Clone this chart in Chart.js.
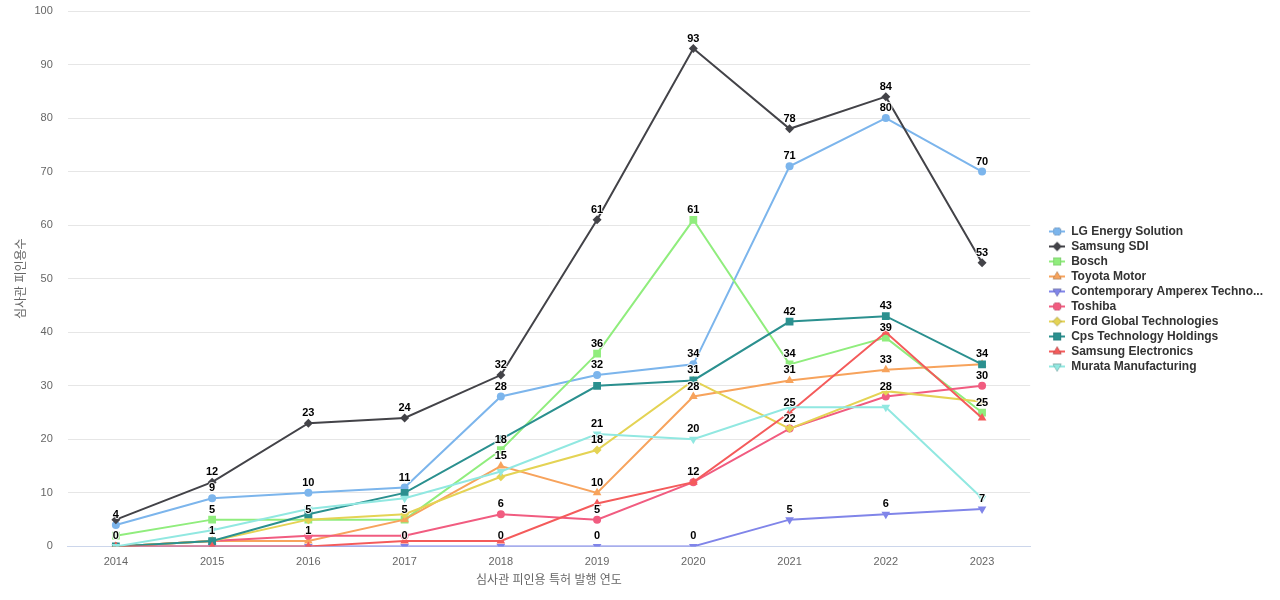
<!DOCTYPE html>
<html>
<head>
<meta charset="utf-8">
<script src="https://cdn.jsdelivr.net/npm/chart.js@4.4.1/dist/chart.umd.min.js"></script>
<style>
  html, body { margin: 0; padding: 0; background: #fff; }
  #wrap { width: 1280px; height: 600px; }
</style>
</head>
<body>
<div id="wrap"><canvas id="chart" width="1280" height="600"></canvas></div>
<script>
const years = ['2014', '2015', '2016', '2017', '2018', '2019', '2020', '2021', '2022', '2023'];

const lgEnergy = [4, 9, 10, 11, 28, 32, 34, 71, 80, 70];
const samsungSdi = [5, 12, 23, 24, 32, 61, 93, 78, 84, 53];
const bosch = [2, 5, 5, 5, 18, 36, 61, 34, 39, 25];
const toyota = [0, 1, 1, 5, 15, 10, 28, 31, 33, 34];
const catl = [0, 0, 0, 0, 0, 0, 0, 5, 6, 7];
const toshiba = [0, 1, 2, 2, 6, 5, 12, 22, 28, 30];
const ford = [0, 1, 5, 6, 13, 18, 31, 22, 29, 27];
const cps = [0, 1, 6, 10, 20, 30, 31, 42, 43, 34];
const samsungElec = [0, 0, 0, 1, 1, 8, 12, 25, 40, 24];
const murata = [0, 3, 7, 9, 14, 21, 20, 26, 26, 9];

const yTicks = [0, 10, 20, 30, 40, 50, 60, 70, 80, 90, 100];

const seriesList = [
  { name: 'LG Energy Solution', data: lgEnergy, color: '#7cb5ec', marker: 'circle' },
  { name: 'Samsung SDI', data: samsungSdi, color: '#434348', marker: 'diamond' },
  { name: 'Bosch', data: bosch, color: '#90ed7d', marker: 'square' },
  { name: 'Toyota Motor', data: toyota, color: '#f7a35c', marker: 'triangle' },
  { name: 'Contemporary Amperex Technology', data: catl, color: '#8085e9', marker: 'triangleDown' },
  { name: 'Toshiba', data: toshiba, color: '#f15c80', marker: 'circle' },
  { name: 'Ford Global Technologies', data: ford, color: '#e4d354', marker: 'diamond' },
  { name: 'Cps Technology Holdings', data: cps, color: '#2b908f', marker: 'square' },
  { name: 'Samsung Electronics', data: samsungElec, color: '#f45b5b', marker: 'triangle' },
  { name: 'Murata Manufacturing', data: murata, color: '#91e8e1', marker: 'triangleDown' },
];

const FONT = "'Liberation Sans', Arial, 'Noto Sans CJK KR', sans-serif";

const markerStyle = {
  circle: { pointStyle: 'circle', radius: 4, rotation: 0 },
  diamond: { pointStyle: 'rectRot', radius: 4.5, rotation: 0 },
  square: { pointStyle: 'rect', radius: 5.5, rotation: 0 },
  triangle: { pointStyle: 'triangle', radius: 5, rotation: 0 },
  triangleDown: { pointStyle: 'triangle', radius: 5, rotation: 180 },
};

// small line + marker picture for the legend
function legendIcon(color, marker) {
  const c = document.createElement('canvas');
  c.width = 16;
  c.height = 12;
  const ctx = c.getContext('2d');
  ctx.strokeStyle = color;
  ctx.lineWidth = 2;
  ctx.beginPath();
  ctx.moveTo(0, 6);
  ctx.lineTo(16, 6);
  ctx.stroke();
  const m = markerStyle[marker];
  Chart.helpers.drawPoint(ctx, { pointStyle: m.pointStyle, radius: m.radius, rotation: m.rotation, borderWidth: 0 }, 8, 6);
  ctx.fillStyle = color;
  ctx.fill();
  return c;
}

const datasets = seriesList.map((s, i) => {
  const m = markerStyle[s.marker];
  return {
    label: s.name,
    data: s.data,
    borderColor: s.color,
    backgroundColor: s.color,
    borderWidth: 2,
    pointStyle: m.pointStyle,
    pointRadius: m.radius,
    pointHoverRadius: m.radius,
    pointRotation: m.rotation,
    pointBorderWidth: 0,
    pointBackgroundColor: s.color,
    tension: 0,
    fill: false,
    order: seriesList.length - i,
    icon: legendIcon(s.color, s.marker),
  };
});

// value labels above the points, hiding the ones that overlap an earlier one
const valueLabels = {
  id: 'valueLabels',
  afterDatasetsDraw(chart) {
    const ctx = chart.ctx;
    const placed = [];
    ctx.save();
    ctx.font = 'bold 11px ' + FONT;
    ctx.textAlign = 'center';
    ctx.textBaseline = 'middle';
    ctx.lineJoin = 'round';
    chart.data.datasets.forEach((ds, di) => {
      const meta = chart.getDatasetMeta(di);
      meta.data.forEach((pt, j) => {
        const text = String(ds.data[j]);
        const x = pt.x;
        const y = pt.y - 10;
        const w = ctx.measureText(text).width + 2;
        const h = 14;
        const box = { l: x - w / 2, r: x + w / 2, t: y - h / 2, b: y + h / 2 };
        const hit = placed.some(p => box.l < p.r && box.r > p.l && box.t < p.b && box.b > p.t);
        if (hit) return;
        placed.push(box);
        ctx.strokeStyle = 'rgba(255,255,255,0.9)';
        ctx.lineWidth = 2;
        ctx.strokeText(text, x, y);
        ctx.fillStyle = '#000';
        ctx.fillText(text, x, y);
      });
    });
    ctx.restore();
  },
};

const legendShift = {
  id: 'legendShift',
  afterLayout(chart) {
    chart.legend.left += 16;
    chart.legend.right += 16;
    chart.legend.top += 5;
    chart.legend.bottom += 5;
  },
};

new Chart(document.getElementById('chart').getContext('2d'), {
  type: 'line',
  data: { labels: years, datasets: datasets },
  plugins: [valueLabels, legendShift],
  options: {
    responsive: false,
    animation: false,
    layout: { padding: { top: 0, right: 23, bottom: 12, left: 14 } },
    plugins: {
      tooltip: { enabled: false },
      legend: {
        position: 'right',
        align: 'center',
        labels: {
          usePointStyle: true,
          pointStyleWidth: 16,
          padding: 3,
          color: '#333333',
          font: { family: FONT, size: 12, weight: 'bold' },
          sort: (a, b) => a.datasetIndex - b.datasetIndex,
          generateLabels(chart) {
            return chart.data.datasets.map((ds, i) => ({
              text: ds.label.length > 27 ? ds.label.slice(0, 27) + '...' : ds.label,
              pointStyle: ds.icon,
              fillStyle: ds.borderColor,
              strokeStyle: ds.borderColor,
              lineWidth: 0,
              fontColor: '#333333',
              hidden: false,
              datasetIndex: i,
            }));
          },
        },
      },
    },
    scales: {
      x: {
        offset: true,
        grid: { display: false, drawTicks: false },
        border: { display: true, color: '#ccd6eb', width: 1 },
        ticks: { color: '#666666', font: { family: FONT, size: 11 }, padding: 9 },
        title: {
          display: true,
          text: '심사관 피인용 특허 발행 연도',
          color: '#666666',
          font: { family: FONT, size: 12 },
          padding: { top: -4, bottom: 0 },
        },
      },
      y: {
        min: 0,
        max: 100,
        afterBuildTicks(scale) {
          scale.ticks = yTicks.map(v => ({ value: v }));
        },
        afterFit(scale) {
          scale.paddingTop = 11;
        },
        grid: {
          drawTicks: false,
          color: ctx => (ctx.tick && ctx.tick.value === 0 ? 'rgba(0,0,0,0)' : '#e6e6e6'),
        },
        border: { display: false },
        ticks: { color: '#666666', font: { family: FONT, size: 11 }, padding: 15 },
        title: {
          display: true,
          text: '심사관 피인용수',
          color: '#666666',
          font: { family: FONT, size: 12 },
          padding: { top: 0, bottom: -9 },
        },
      },
    },
  },
});
</script>
</body>
</html>
